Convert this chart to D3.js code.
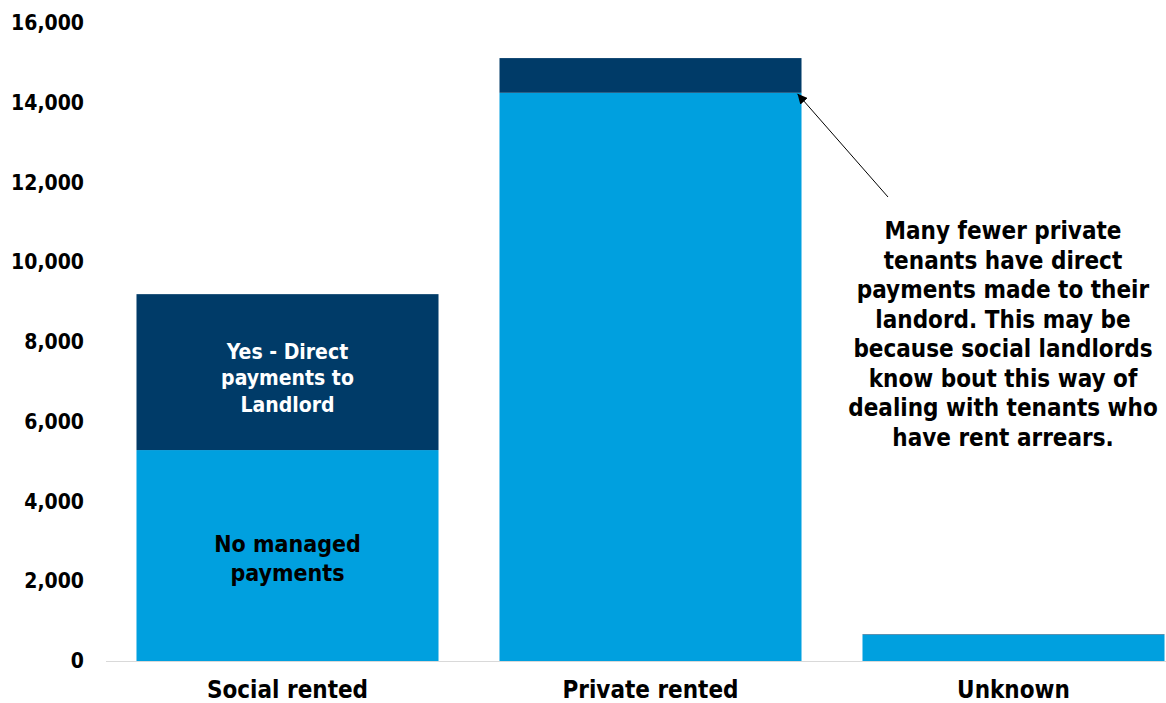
<!DOCTYPE html>
<html>
<head>
<meta charset="utf-8">
<script src="https://cdn.jsdelivr.net/npm/d3@7"></script>
<style>
  html, body { margin: 0; padding: 0; background: #fff; }
  svg { display: block; }
  text { font-family: "DejaVu Sans Condensed", "DejaVu Sans", sans-serif; font-weight: bold; }
</style>
</head>
<body>
<svg id="chart" width="1166" height="703"></svg>
<script>
// Households by tenure, split by whether rent is paid directly to the landlord
const categories = ["Social rented", "Private rented", "Unknown"];
const noManaged = [5290, 14250, 660];
const directPayments = [3910, 870, 12];
const yTicks = [0, 2000, 4000, 6000, 8000, 10000, 12000, 14000, 16000];
const seriesNames = ["No managed payments", "Yes - Direct payments to Landlord"];
const seriesColors = ["#00A0DF", "#003B68"];

const svg = d3.select("#chart");
const margin = { left: 106, right: -29, top: 23, bottom: 42 };
const W = 1166, H = 703;

const x = d3.scaleBand()
  .domain(categories)
  .range([margin.left, W - margin.right])
  .paddingInner(0.168)
  .paddingOuter(0.084);

const y = d3.scaleLinear()
  .domain([0, 16000])
  .range([H - margin.bottom, margin.top]);

const rows = categories.map((c, i) => ({ cat: c, a: noManaged[i], b: directPayments[i] }));
const stacked = d3.stack().keys(["a", "b"])(rows);

// bars
svg.append("g").selectAll("g")
  .data(stacked)
  .join("g")
  .attr("fill", (d, i) => seriesColors[i])
  .selectAll("rect")
  .data(d => d)
  .join("rect")
  .attr("x", d => x(d.data.cat))
  .attr("width", x.bandwidth())
  .attr("y", d => y(d[1]))
  .attr("height", d => y(d[0]) - y(d[1]));

// baseline
svg.append("line")
  .attr("x1", margin.left).attr("x2", W)
  .attr("y1", y(0) + 0.5).attr("y2", y(0) + 0.5)
  .attr("stroke", "#d9d9d9").attr("stroke-width", 1);

// y axis
const yAxis = d3.axisLeft(y).tickValues(yTicks).tickFormat(d3.format(",")).tickSize(0).tickPadding(22);
const gy = svg.append("g").attr("transform", `translate(${margin.left},0)`).call(yAxis);
gy.select(".domain").remove();
gy.selectAll("text").attr("font-size", 21).attr("fill", "#000")
  .style("font-family", '"DejaVu Sans Condensed", sans-serif').style("font-weight", "bold");

// x axis
const xAxis = d3.axisBottom(x).tickSize(0).tickPadding(20);
const gx = svg.append("g").attr("transform", `translate(0,${y(0)})`).call(xAxis);
gx.select(".domain").remove();
gx.selectAll("text").attr("font-size", 24).attr("fill", "#000")
  .style("font-family", '"DejaVu Sans Condensed", sans-serif').style("font-weight", "bold");

// series labels inside the social rented bar
const s0 = categories[0];
const cx = x(s0) + x.bandwidth() / 2;
function multiline(lines, cxp, cyp, lh, size, color) {
  const t = svg.append("text")
    .attr("text-anchor", "middle")
    .attr("font-size", size)
    .attr("fill", color);
  const y0 = cyp - (lines.length - 1) * lh / 2;
  lines.forEach((l, i) => {
    t.append("tspan").attr("x", cxp).attr("y", y0 + i * lh).attr("dy", "0.35em").text(l);
  });
  return t;
}
multiline(["Yes - Direct", "payments to", "Landlord"], cx, 378, 26.5, 21, "#fff");
multiline(["No managed", "payments"], cx, 558, 29, 23, "#000");

// annotation
const note = ["Many fewer private", "tenants have direct", "payments made to their",
  "landord. This may be", "because social landlords", "know bout this way of",
  "dealing with tenants who", "have rent arrears."];
multiline(note, 1003, 334, 29.5, 24, "#000");

// arrow
svg.append("defs").append("marker")
  .attr("id", "arrowhead")
  .attr("viewBox", "0 0 10 10")
  .attr("refX", 10).attr("refY", 5)
  .attr("markerWidth", 10).attr("markerHeight", 10)
  .attr("markerUnits", "userSpaceOnUse")
  .attr("orient", "auto")
  .append("path").attr("d", "M0,0 L10,5 L0,10 z").attr("fill", "#000");

const ax = x(categories[1]) + x.bandwidth() - 4;
const ay = y(noManaged[1]);
svg.append("line")
  .attr("x1", 888).attr("y1", 197)
  .attr("x2", ax).attr("y2", ay + 1)
  .attr("stroke", "#000").attr("stroke-width", 1)
  .attr("marker-end", "url(#arrowhead)");
</script>
</body>
</html>
